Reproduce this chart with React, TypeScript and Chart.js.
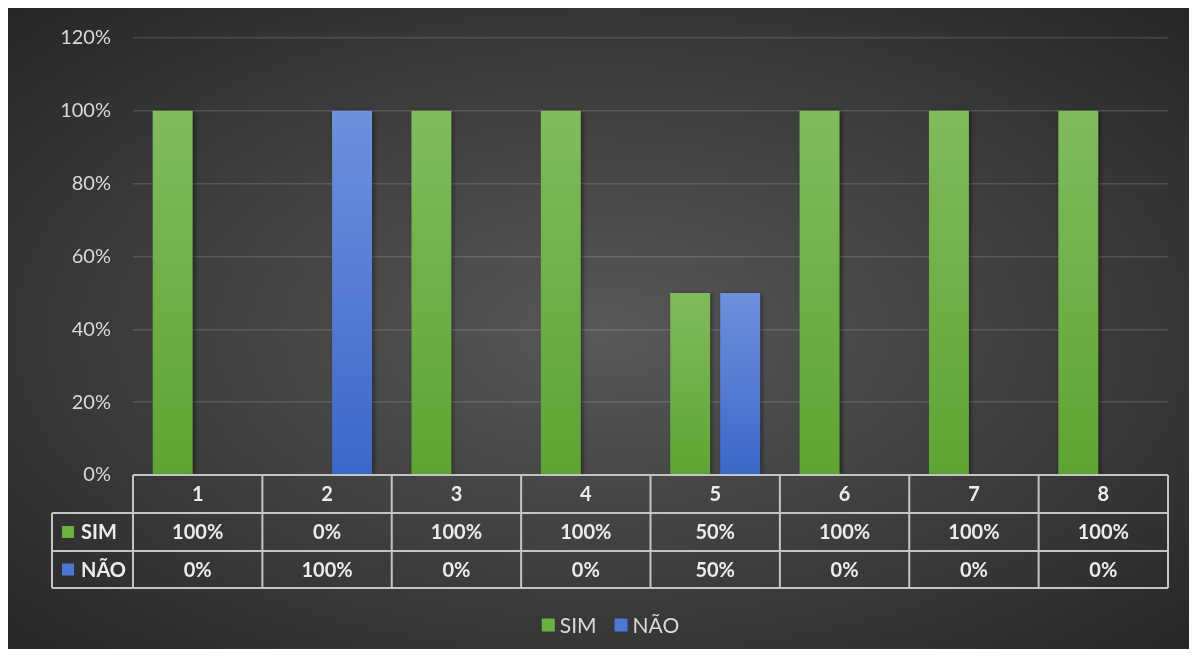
import React, { useEffect, useRef } from "react";
import { Chart, registerables } from "chart.js";

Chart.register(...registerables);

const categories = ["1", "2", "3", "4", "5", "6", "7", "8"];
const seriesNames = ["SIM", "NÃO"];
const simValues = [1, 0, 1, 1, 0.5, 1, 1, 1];
const naoValues = [0, 1, 0, 0, 0.5, 0, 0, 0];
const seriesColorsTop = ["#80bb5c", "#6e91db"];
const seriesColorsBottom = ["#5ea433", "#3c67ca"];
const seriesSwatch = ["#6ab23f", "#4a78d4"];
const yMax = 1.2;
const yStep = 0.2;

const FONT = "Lato, 'Open Sans', 'DejaVu Sans', sans-serif";
const pct = (v: number) => `${Math.round(v * 100)}%`;

const barGradient = (idx: number) => (context: any) => {
  const chart = context.chart;
  const { ctx, chartArea, scales } = chart;
  if (!chartArea) return seriesColorsTop[idx];
  const v = context.raw ?? 0;
  const yTop = scales.y.getPixelForValue(v);
  const yBot = chartArea.bottom;
  if (!(yBot - yTop > 1)) return seriesColorsTop[idx];
  const g = ctx.createLinearGradient(0, yTop, 0, yBot);
  g.addColorStop(0, seriesColorsTop[idx]);
  g.addColorStop(1, seriesColorsBottom[idx]);
  return g;
};

const shadowPlugin = {
  id: "barShadow",
  beforeDatasetsDraw(chart: any) {
    const ctx = chart.ctx;
    ctx.save();
    ctx.shadowColor = "rgba(0,0,0,0.45)";
    ctx.shadowBlur = 4;
    ctx.shadowOffsetX = 2;
    ctx.shadowOffsetY = 1;
  },
  afterDatasetsDraw(chart: any) {
    chart.ctx.restore();
  },
};

const tablePlugin = {
  id: "dataTable",
  afterDraw(chart: any) {
    const { ctx, chartArea, scales } = chart;
    const x = scales.x;
    const n = categories.length;
    const catW = (chartArea.right - chartArea.left) / n;
    const top = chartArea.bottom;
    const y1 = top + 38;
    const y2 = y1 + 38;
    const y3 = y2 + 37;
    const labelLeft = 44;
    ctx.save();
    ctx.strokeStyle = "#c4c4c4";
    ctx.lineWidth = 2;
    ctx.beginPath();
    ctx.moveTo(chartArea.left, top);
    ctx.lineTo(chartArea.right, top);
    for (const yy of [y1, y2, y3]) {
      ctx.moveTo(labelLeft, yy);
      ctx.lineTo(chartArea.right, yy);
    }
    ctx.moveTo(labelLeft, y1);
    ctx.lineTo(labelLeft, y3);
    for (let i = 0; i < n; i++) {
      const c = x.getPixelForValue(i);
      ctx.moveTo(c - catW / 2, top);
      ctx.lineTo(c - catW / 2, y3);
      if (i === n - 1) {
        ctx.moveTo(c + catW / 2, top);
        ctx.lineTo(c + catW / 2, y3);
      }
    }
    ctx.stroke();

    ctx.fillStyle = "#ececec";
    ctx.font = `bold 20px ${FONT}`;
    ctx.textAlign = "center";
    ctx.textBaseline = "middle";
    const rows = [simValues, naoValues];
    for (let i = 0; i < n; i++) {
      const c = x.getPixelForValue(i);
      ctx.fillText(categories[i], c, (top + y1) / 2 + 1);
      ctx.fillText(pct(rows[0][i]), c, (y1 + y2) / 2 + 1);
      ctx.fillText(pct(rows[1][i]), c, (y2 + y3) / 2 + 1);
    }
    // label column
    const rowCenters = [(y1 + y2) / 2, (y2 + y3) / 2];
    ctx.textAlign = "left";
    ctx.font = `bold 20px ${FONT}`;
    for (let s = 0; s < seriesNames.length; s++) {
      ctx.fillStyle = seriesSwatch[s];
      ctx.fillRect(labelLeft + 10, rowCenters[s] - 6, 12, 12);
      ctx.fillStyle = "#ececec";
      ctx.fillText(seriesNames[s], labelLeft + 29, rowCenters[s] + 1);
    }

    // legend
    ctx.font = `21px ${FONT}`;
    const sq = 13;
    const gap = 5;
    const spacing = 18;
    const widths = seriesNames.map((t) => ctx.measureText(t).width);
    const total = widths.reduce((a, b) => a + b, 0) + seriesNames.length * (sq + gap) + spacing * (seriesNames.length - 1);
    let lx = chart.width / 2 + 8 - total / 2;
    const ly = 617;
    for (let s = 0; s < seriesNames.length; s++) {
      ctx.fillStyle = seriesSwatch[s];
      ctx.fillRect(lx, ly - sq / 2, sq, sq);
      lx += sq + gap;
      ctx.fillStyle = "#d9d9d9";
      ctx.fillText(seriesNames[s], lx, ly + 1);
      lx += widths[s] + spacing;
    }
    ctx.restore();
  },
};

export default function App() {
  const ref = useRef<HTMLCanvasElement | null>(null);
  useEffect(() => {
    document.documentElement.style.overflow = "hidden";
    if (!ref.current) return;
    const chart = new Chart(ref.current, {
      type: "bar",
      data: {
        labels: categories,
        datasets: [
          { label: seriesNames[0], data: simValues, backgroundColor: barGradient(0), borderWidth: 0 },
          { label: seriesNames[1], data: naoValues, backgroundColor: barGradient(1), borderWidth: 0 },
        ],
      },
      options: {
        responsive: false,
        animation: false,
        maintainAspectRatio: false,
        datasets: { bar: { categoryPercentage: 0.773, barPercentage: 0.8 } },
        layout: { padding: { top: 30, right: 29, left: 0, bottom: 0 } },
        plugins: { legend: { display: false }, tooltip: { enabled: false } },
        scales: {
          x: {
            ticks: { display: false },
            grid: { display: false },
            border: { display: false },
            afterFit: (s: any) => {
              s.height = 182;
              s.paddingLeft = 0;
              s.paddingRight = 0;
            },
          },
          y: {
            min: 0,
            max: yMax,
            ticks: {
              stepSize: yStep,
              padding: 22,
              color: "#d9d9d9",
              font: { family: FONT, size: 20 },
              callback: (v: any) => pct(Number(v)),
            },
            grid: { color: "rgba(255,255,255,0.14)", lineWidth: 1.5, drawTicks: false },
            border: { display: false },
            afterFit: (s: any) => {
              s.width = 125;
              s.paddingTop = 0;
              s.paddingBottom = 0;
            },
          },
        },
      },
      plugins: [shadowPlugin, tablePlugin],
    });
    return () => chart.destroy();
  }, []);
  return (
    <div
      style={{
        width: 1189,
        height: 649,
        marginBottom: -8,
        background: "radial-gradient(ellipse farthest-corner at 50% 50%, #585858 0%, #262626 100%)",
      }}
    >
      <canvas ref={ref} width={1189} height={649} style={{ display: "block" }} />
    </div>
  );
}
